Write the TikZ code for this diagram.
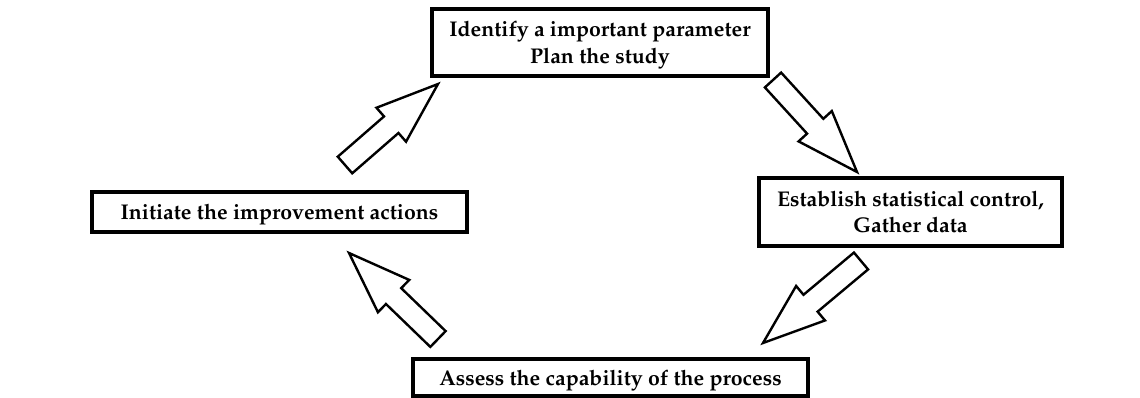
\documentclass[tikz,border=0pt]{standalone}
\usepackage[T1]{fontenc}
\usepackage{mathpazo}
\usetikzlibrary{calc}
\newcommand\blockarr[2]{%
  \path ($(#2)!62pt!(#1)$) coordinate (hb);
  \draw[barrow] ($(#1)!11pt!90:(#2)$) -- ($(hb)!11pt!90:(#2)$) -- ($(hb)!22.5pt!90:(#2)$)
    -- (#2) -- ($(hb)!22.5pt!-90:(#2)$) -- ($(hb)!11pt!-90:(#2)$) -- ($(#1)!11pt!-90:(#2)$) -- cycle;
}
\begin{document}
\begin{tikzpicture}[x=1pt,y=-1pt,
  box/.style={draw, line width=3.8pt, fill=white, inner sep=0pt, text depth=0pt,
    font=\fontsize{21.3}{26.5}\selectfont\bfseries, align=center},
  barrow/.style={draw, line width=2.4pt, fill=white, line join=miter}]
\useasboundingbox[fill=white] (0,0) rectangle (1140,398);
\node[box, minimum width=336, minimum height=67] (b1) at (600,42.5) {Identify a important parameter\\Plan the study};
\node[box, minimum width=303, minimum height=68] (b2) at (910.5,212) {Establish statistical control,\\Gather data};
\node[box, minimum width=375, minimum height=40] (b3) at (279.5,212) {Initiate the improvement actions};
\node[box, minimum width=395, minimum height=37] (b4) at (610.5,377.5) {Assess the capability of the process};
\coordinate (a1) at (345,165); \coordinate (a2) at (438,84);
\coordinate (c1) at (773,80);  \coordinate (c2) at (857,172);
\coordinate (d1) at (861,261); \coordinate (d2) at (763,343);
\coordinate (e1) at (438,339); \coordinate (e2) at (349,253);
\blockarr{a1}{a2}
\blockarr{c1}{c2}
\blockarr{d1}{d2}
\blockarr{e1}{e2}
\end{tikzpicture}
\end{document}
